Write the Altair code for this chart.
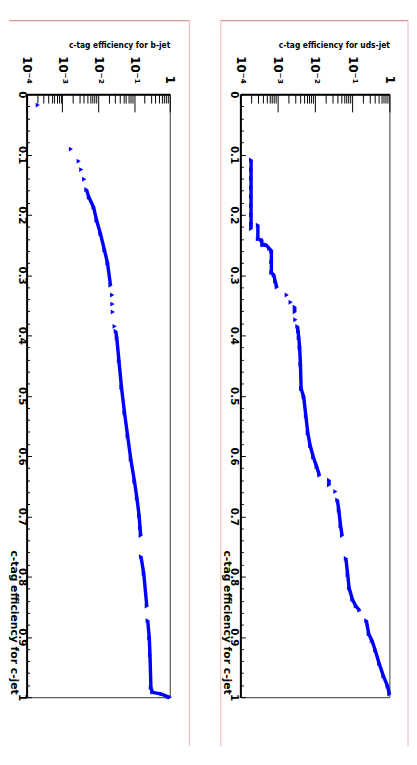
import altair as alt
import pandas as pd

BLUE = "#0000ff"
PINK_TOP = "#cc7777"
PINK_SIDE = "#f0b4b4"

# ---- b-jet panel: c-tag efficiency for b-jets vs. c-tag efficiency for c-jets ----
b_ceff = [0.018, 0.091, 0.111, 0.125, 0.141,
          0.158, 0.171, 0.187, 0.209, 0.231, 0.258, 0.280, 0.317,
          0.333, 0.348, 0.361, 0.385,
          0.393, 0.404, 0.442, 0.486, 0.528, 0.567, 0.605, 0.642, 0.670, 0.699, 0.719, 0.732,
          0.767, 0.795, 0.849,
          0.873, 0.902, 0.930, 0.984, 0.992, 0.995, 0.9995, 1.0]
b_mistag = [2.05e-4, 1.73e-3, 2.85e-3, 3.35e-3, 4.07e-3,
            4.68e-3, 5.5e-3, 7.4e-3, 9.0e-3, 0.0115, 0.0149, 0.0182, 0.0221,
            0.0245, 0.025, 0.0256, 0.0288,
            0.031, 0.033, 0.038, 0.0447, 0.0543, 0.0665, 0.0813, 0.103, 0.121, 0.139, 0.148, 0.154,
            0.157, 0.1875, 0.228,
            0.242, 0.268, 0.280, 0.297, 0.327, 0.594, 0.887, 1.0]
b_seg = [1, 2, 3, 4, 5,
         6, 6, 6, 6, 6, 6, 6, 6,
         7, 8, 9, 10,
         11, 11, 11, 11, 11, 11, 11, 11, 11, 11, 11, 11,
         12, 12, 12,
         13, 13, 13, 13, 13, 13, 13, 13]

# ---- uds-jet panel ----
uds_ceff = [0.109, 0.125, 0.140, 0.155, 0.170, 0.185, 0.200, 0.215, 0.223,
            0.217, 0.240, 0.242, 0.250, 0.250, 0.256, 0.260, 0.278, 0.296, 0.300, 0.310, 0.320,
            0.333,
            0.345,
            0.353, 0.361,
            0.374,
            0.385, 0.393, 0.404, 0.420, 0.448, 0.488, 0.502, 0.534, 0.562, 0.583, 0.602, 0.618, 0.632,
            0.640, 0.648,
            0.659,
            0.673, 0.690, 0.716, 0.732,
            0.770, 0.797, 0.819, 0.838, 0.849, 0.856,
            0.873, 0.895, 0.906, 0.922, 0.944, 0.965, 0.982, 0.995]
uds_mistag = [1.94e-4, 1.94e-4, 1.94e-4, 1.94e-4, 1.94e-4, 1.94e-4, 1.94e-4, 1.94e-4, 1.94e-4,
              2.95e-4, 2.95e-4, 3.7e-4, 3.9e-4, 4.9e-4, 6.0e-4, 6.8e-4, 6.8e-4, 6.8e-4, 7.9e-4, 8.6e-4, 9.5e-4,
              1.76e-3,
              2.24e-3,
              2.88e-3, 2.88e-3,
              3.0e-3,
              3.4e-3, 3.55e-3, 3.7e-3, 3.9e-3, 4.1e-3, 4.27e-3, 5.0e-3, 5.75e-3, 6.45e-3, 7.5e-3, 9.1e-3, 0.0112, 0.0132,
              0.024, 0.024,
              0.0355,
              0.040, 0.044, 0.049, 0.0537,
              0.068, 0.076, 0.083, 0.102, 0.126, 0.158,
              0.240, 0.279, 0.339, 0.417, 0.531, 0.692, 0.897, 1.0]
uds_seg = [1, 1, 1, 1, 1, 1, 1, 1, 1,
           2, 2, 2, 2, 2, 2, 2, 2, 2, 2, 2, 2,
           3,
           4,
           5, 5,
           6,
           7, 7, 7, 7, 7, 7, 7, 7, 7, 7, 7, 7, 7,
           8, 8,
           9,
           10, 10, 10, 10,
           11, 11, 11, 11, 11, 11,
           12, 12, 12, 12, 12, 12, 12, 12]

# ---- axis ticks / labels ----
log_major = [1e-4, 1e-3, 1e-2, 1e-1, 1.0]
log_labels = ["10\u207b\u2074", "10\u207b\u00b3", "10\u207b\u00b2", "10\u207b\u00b9", "1"]
log_ticks = [m * 10.0 ** k for k in range(-4, 0) for m in range(1, 10)] + [1.0]
lin_major = [0, 0.1, 0.2, 0.3, 0.4, 0.5, 0.6, 0.7, 0.8, 0.9, 1.0]
lin_ticks = [round(i * 0.02, 2) for i in range(51)]
x_title = "c-tag efficiency for c-jet"

PLOT_H = 615
LABEL_FONT = "DejaVu Sans"
TITLE_FONT = "'Liberation Sans Narrow', 'DejaVu Sans Condensed', 'Roboto', sans-serif"

log_expr = ("datum.value < 0.0005 ? '%s' : datum.value < 0.005 ? '%s' : "
            "datum.value < 0.05 ? '%s' : datum.value < 0.5 ? '%s' : '%s'") % tuple(log_labels)
lin_expr = "datum.value == 0 ? '0' : datum.value >= 0.999 ? '1' : format(datum.value, '.1f')"


def panel(ceff, mistag, seg, width, title, lab_pad, title_x, frame):
    df = pd.DataFrame({"c": ceff, "m": mistag, "seg": seg, "i": list(range(len(ceff)))})
    xs = alt.Scale(type="log", domain=[1e-4, 1.0])
    ys = alt.Scale(domain=[0, 1], reverse=True)
    base = alt.Chart(df)

    line = base.mark_line(color=BLUE, strokeWidth=3.5).encode(
        x=alt.X("m:Q", scale=xs, axis=alt.Axis(
            orient="top", values=log_major, labelExpr=log_expr, ticks=False, tickSize=0,
            grid=False, domainColor="black", domainWidth=2,
            labelAngle=90, labelAlign="right", labelBaseline="middle", labelPadding=11,
            labelFont=LABEL_FONT, labelFontSize=12, labelFontWeight="bold", labelColor="black",
            labelFlush=False, labelOverlap=False, labelBound=False,
            title=title, titleX=width, titleY=-51, titleAlign="right", titleBaseline="middle",
            titleAngle=0, titleFont=TITLE_FONT, titleFontSize=8.5, titleFontWeight="bold",
            titleColor="black")),
        y=alt.Y("c:Q", scale=ys, axis=alt.Axis(
            orient="left", values=lin_major, labelExpr=lin_expr, ticks=False, tickSize=0,
            grid=False, domainColor="black", domainWidth=2,
            labelAngle=90, labelAlign="center", labelBaseline="middle", labelPadding=lab_pad,
            labelFont=LABEL_FONT, labelFontSize=10.5, labelFontWeight="bold", labelColor="black",
            labelFlush=False, labelOverlap=False, labelBound=False,
            title=x_title, titleX=title_x, titleY=612, titleAngle=90,
            titleAlign="right", titleBaseline="middle", titleFont=LABEL_FONT, titleFontSize=11,
            titleFontWeight="bold", titleColor="black")),
        detail="seg:N",
        order="i:Q",
    )

    pts = base.mark_point(shape="triangle-right", filled=True, size=24, color=BLUE, opacity=1).encode(
        x=alt.X("m:Q", scale=xs, axis=alt.Axis(
            orient="bottom", offset=-PLOT_H, values=log_ticks, labels=False, domain=False, grid=False,
            tickColor="black", tickWidth=1,
            tickSize={"condition": {"test": "abs(log(datum.value)/LN10 - round(log(datum.value)/LN10)) < 0.000001",
                                    "value": 18}, "value": 9},
            title=None)),
        y=alt.Y("c:Q", scale=ys, axis=alt.Axis(
            orient="right", offset=-width, values=lin_ticks, labels=False, domain=False, grid=False,
            tickColor="black", tickWidth=1,
            tickSize={"condition": {"test": "abs(datum.value*10 - round(datum.value*10)) < 0.000001",
                                    "value": 5}, "value": 3},
            title=None)),
    )
    layers = [line, pts] + frame
    return alt.layer(*layers).resolve_axis(x="independent", y="independent").properties(
        width=width, height=PLOT_H)


one = alt.Data(values=[{"k": 1}])
W_B = 146
W_U = 152

b_frame = [
    alt.Chart(one).mark_rule(color=PINK_TOP, strokeWidth=1).encode(
        x=alt.value(-18), x2=alt.value(W_B + 20), y=alt.value(-75)),
    alt.Chart(one).mark_rule(color=PINK_SIDE, strokeWidth=1).encode(
        x=alt.value(W_B + 20), y=alt.value(-75), y2=alt.value(665)),
]
u_frame = [
    alt.Chart(one).mark_rule(color=PINK_TOP, strokeWidth=1).encode(
        x=alt.value(-20), x2=alt.value(W_U + 19), y=alt.value(-75)),
    alt.Chart(one).mark_rule(color=PINK_SIDE, strokeWidth=1).encode(
        x=alt.value(-20), y=alt.value(-75), y2=alt.value(665)),
    alt.Chart(one).mark_rule(color=PINK_SIDE, strokeWidth=1).encode(
        x=alt.value(W_U + 19), y=alt.value(-75), y2=alt.value(665)),
]

left = panel(b_ceff, b_mistag, b_seg, W_B, "c-tag efficiency for b-jet", 5.5, -13.5, b_frame)
right = panel(uds_ceff, uds_mistag, uds_seg, W_U, "c-tag efficiency for uds-jet", 7.5, -14.5, u_frame)

chart = alt.hconcat(left, right, spacing=72, bounds="flush").properties(
    padding={"left": 0, "top": 4.5, "right": 0, "bottom": 0},
).configure_view(stroke="#333333", strokeWidth=1)

chart.save("out.html", embed_options={"renderer": "svg", "actions": False})
